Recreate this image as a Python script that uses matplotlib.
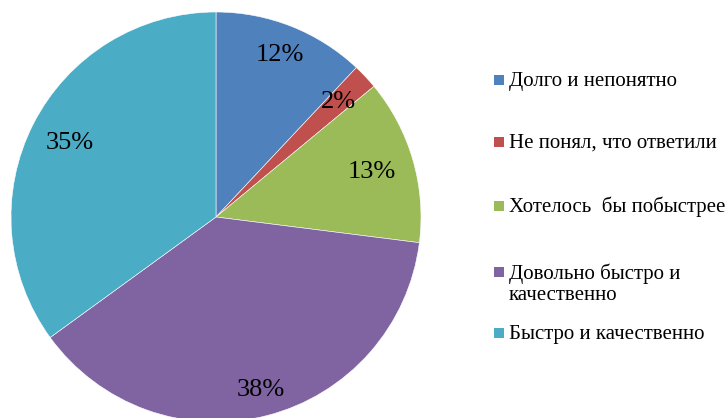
import numpy as np
import matplotlib.pyplot as plt
from matplotlib.patches import Rectangle

labels = ['Долго и непонятно', 'Не понял, что ответили', 'Хотелось  бы побыстрее',
          'Довольно быстро и\nкачественно', 'Быстро и качественно']
values = [12, 2, 13, 38, 35]
colors = ['#4F81BD', '#C0504D', '#9BBB59', '#8064A2', '#4BACC6']

W, H = 726, 418
fig = plt.figure(figsize=(W / 100, H / 100), dpi=100)
plt.rcParams['font.family'] = ['Liberation Serif', 'DejaVu Serif']

# pie: centre (216, 217) px, radius 205 px
cx, cy, r = 216, 217, 205
ax = fig.add_axes([(cx - r) / W, (H - cy - r) / H, 2 * r / W, 2 * r / H])
wedges, texts, autotexts = ax.pie(
    values, colors=colors, startangle=90, counterclock=False,
    autopct='%1.0f%%', pctdistance=0.85, radius=1,
    wedgeprops=dict(edgecolor='white', linewidth=0.4),
    textprops=dict(fontsize=19, color='black'))

# Excel "best fit" label distances
dists = [0.85, 0.82, 0.79, 0.87, 0.80]
for w, t, d in zip(wedges, autotexts, dists):
    th = np.deg2rad((w.theta1 + w.theta2) / 2)
    t.set_position((d * np.cos(th), d * np.sin(th)))

ax.set_xlim(-1, 1)
ax.set_ylim(-1, 1)
ax.set_aspect('equal')
ax.axis('off')

# legend, Excel-like irregular spacing
rows = [80, 142, 206, 272, 333]
line_h = 22
for y, lab, c in zip(rows, labels, colors):
    fig.patches.append(Rectangle((494 / W, (H - y - 5) / H), 10 / W, 10 / H,
                                 transform=fig.transFigure, facecolor=c,
                                 edgecolor='none'))
    extra = lab.count('\n') * line_h
    fig.text(509 / W, (H - y - 6 - extra) / H, lab, fontsize=15, va='baseline',
             ha='left', linespacing=1.12)

fig.savefig('out.png', dpi=100)
